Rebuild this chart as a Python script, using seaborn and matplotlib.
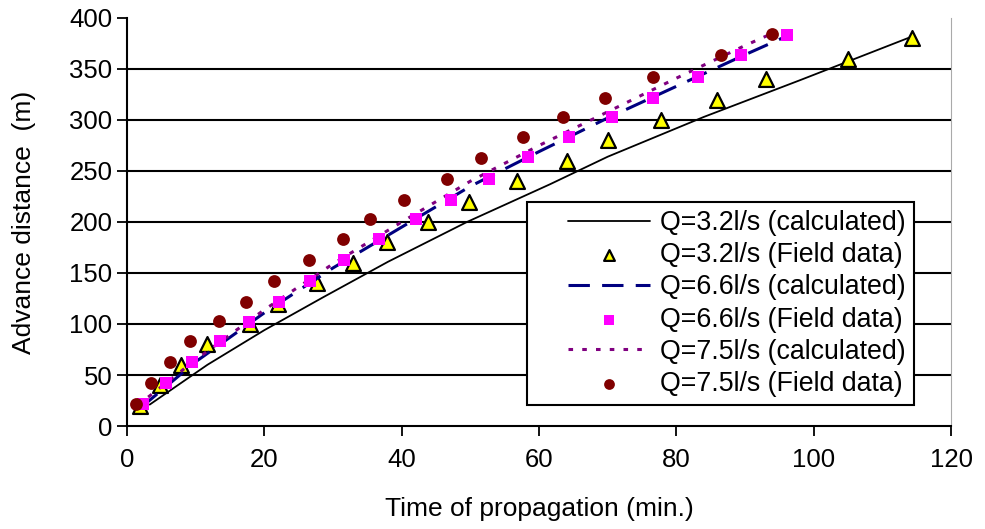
import matplotlib
matplotlib.use("Agg")
import matplotlib.pyplot as plt
import seaborn as sns
from matplotlib.lines import Line2D
from matplotlib.collections import PathCollection
from matplotlib.legend_handler import HandlerLine2D, HandlerPathCollection

# Calculated curves
calc32_t = [3.3, 11.7, 20, 28.5, 38, 49.5, 61.6, 70, 84, 98, 114]
calc32_d = [21, 60, 94, 126, 161, 200, 237, 264, 303, 339, 381]

calc66_t = [2, 10, 20, 30, 40, 50, 60, 70, 80, 90, 96]
calc66_d = [18, 63, 111, 155, 195, 235, 269, 302, 333, 364, 382]

calc75_t = [1.5, 10, 20, 30, 40, 50, 60, 70, 80, 90, 94]
calc75_d = [20, 65, 114, 159, 200, 240, 275, 308, 341, 373, 385]

# Field data
field32_t = [1.9, 4.8, 7.9, 11.7, 17.9, 22, 27.7, 32.9, 37.9, 43.8, 49.8, 56.8, 64.1, 70, 77.8, 85.9, 93, 105, 114.3]
field32_d = [20, 40, 60, 80, 100, 120, 140, 160, 180, 200, 220, 240, 260, 280, 300, 320, 340, 360, 380]

field66_t = [2.3, 5.7, 9.4, 13.5, 17.8, 22.1, 26.7, 31.6, 36.7, 42.1, 47.2, 52.7, 58.4, 64.4, 70.6, 76.6, 83.2, 89.4, 96.1]
field66_d = [22, 42, 63, 83, 102, 122, 142, 163, 183, 203, 222, 242, 264, 283, 303, 322, 342, 364, 383]

field75_t = [1.3, 3.5, 6.3, 9.2, 13.4, 17.3, 21.4, 26.5, 31.5, 35.4, 40.3, 46.6, 51.5, 57.6, 63.5, 69.6, 76.6, 86.5, 93.9]
field75_d = [22, 42, 63, 83, 103, 122, 142, 163, 183, 203, 222, 242, 263, 283, 303, 322, 342, 364, 384]

labels = ["Q=3.2l/s (calculated)", "Q=3.2l/s (Field data)",
          "Q=6.6l/s (calculated)", "Q=6.6l/s (Field data)",
          "Q=7.5l/s (calculated)", "Q=7.5l/s (Field data)"]

x_ticks = [0, 20, 40, 60, 80, 100, 120]
y_ticks = [0, 50, 100, 150, 200, 250, 300, 350, 400]

sns.set_style("ticks")
plt.rcParams['font.family'] = ['Liberation Sans', 'DejaVu Sans']
plt.rcParams['text.color'] = 'black'
plt.rcParams['axes.labelcolor'] = 'black'
plt.rcParams['xtick.color'] = 'black'
plt.rcParams['ytick.color'] = 'black'

fig = plt.figure(figsize=(9.85, 5.29), dpi=100)
ax = fig.add_axes([0.129, 0.1947, 0.8365, 0.7713])

for yv in y_ticks[1:-1]:
    ax.axhline(yv, color="black", lw=1.5, zorder=0)

sns.lineplot(x=calc32_t, y=calc32_d, ax=ax, color="black", lw=1.3,
             label=labels[0], sort=False)
sns.scatterplot(x=field32_t, y=field32_d, ax=ax, marker="^", s=115,
                color="#FFFF00", edgecolor="black", linewidth=1.6,
                label=labels[1], zorder=3)
sns.lineplot(x=calc66_t, y=calc66_d, ax=ax, color="#000080", lw=2.2,
             label=labels[2], sort=False, zorder=4)
ax.lines[-1].set_dashes([7, 4])
sns.scatterplot(x=field66_t, y=field66_d, ax=ax, marker="s", s=75,
                color="#FF00FF", edgecolor="#FF00FF", linewidth=0,
                label=labels[3], zorder=5)
sns.lineplot(x=calc75_t, y=calc75_d, ax=ax, color="#800080", lw=2.2,
             label=labels[4], sort=False, zorder=4)
ax.lines[-1].set_dashes([1.5, 3])
sns.scatterplot(x=field75_t, y=field75_d, ax=ax, marker="o", s=85,
                color="#800000", edgecolor="#800000", linewidth=0,
                label=labels[5], zorder=5)

ax.set_xlim(0, 120)
ax.set_ylim(0, 400)
ax.set_xticks(x_ticks)
ax.set_yticks(y_ticks)
ax.tick_params(axis="both", labelsize=18.5, length=7, width=1.3,
               color="black", labelcolor="black", direction="out")
ax.tick_params(axis="x", pad=9)
ax.spines["top"].set_visible(False)
ax.spines["right"].set_color("#aaaaaa")
ax.spines["left"].set_color("black")
ax.spines["bottom"].set_color("black")
ax.spines["left"].set_linewidth(1.5)
ax.spines["bottom"].set_linewidth(1.5)

ax.set_xlabel("Time of propagation (min.)", fontsize=19, labelpad=18,
              color="black")
ax.set_ylabel("Advance distance  (m)", fontsize=19, labelpad=24,
              color="black")

OFF = 24  # points of empty space left of the legend symbols


class ShiftLine(HandlerLine2D):
    def create_artists(self, legend, orig_handle, xdescent, ydescent,
                       width, height, fontsize, trans):
        return super().create_artists(legend, orig_handle, xdescent - OFF,
                                      ydescent, width - OFF, height,
                                      fontsize, trans)


class ShiftPC(HandlerPathCollection):
    def create_artists(self, legend, orig_handle, xdescent, ydescent,
                       width, height, fontsize, trans):
        return super().create_artists(legend, orig_handle, xdescent - OFF,
                                      ydescent, width - OFF, height,
                                      fontsize, trans)


leg = ax.legend(loc="lower left", bbox_to_anchor=(0.485, 0.0515),
                fontsize=19.3, frameon=True, fancybox=False,
                edgecolor="black", framealpha=1, handlelength=4.3,
                labelspacing=0.23, borderpad=0.3, handletextpad=0.38,
                borderaxespad=0, labelcolor="black",
                handler_map={Line2D: ShiftLine(),
                             PathCollection: ShiftPC(sizes=[60])})
leg.get_frame().set_linewidth(1.5)

fig.savefig("out.png", dpi=100)
